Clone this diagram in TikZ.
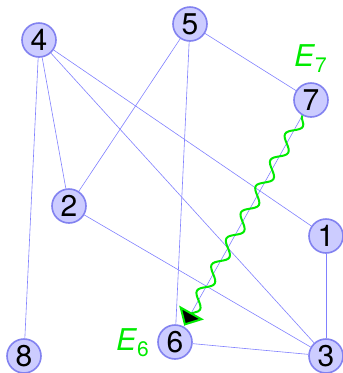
\documentclass[tikz,border=0pt]{standalone}
\usepackage{fontspec}
\setmainfont{TeX Gyre Heros}
\usetikzlibrary{arrows.meta,decorations.pathmorphing}
\definecolor{vertexfill}{RGB}{204,204,255}
\definecolor{vertexline}{RGB}{130,130,240}
\definecolor{edgeblue}{RGB}{128,128,255}
\definecolor{brightgreen}{RGB}{0,235,0}

\begin{document}
\begin{tikzpicture}[x=1pt, y=-1pt,
    vertex/.style={circle, draw=vertexline, fill=vertexfill, line width=1.6pt,
                   minimum size=34pt, inner sep=0pt, font=\fontsize{30}{30}\selectfont},
    edge/.style={draw=edgeblue, line width=0.6pt},
    elabel/.style={text=brightgreen, inner sep=0pt, anchor=base west,
                   font=\fontsize{30}{30}\selectfont}]
  \useasboundingbox (0,0) rectangle (343,373);

  % vertices
  \node[vertex] (n4) at (39,40)   {4};
  \node[vertex] (n5) at (190,24)  {5};
  \node[vertex] (n7) at (311,100) {7};
  \node[vertex] (n2) at (69,206)  {2};
  \node[vertex] (n1) at (326,236) {1};
  \node[vertex] (n8) at (24,356)  {8};
  \node[vertex] (n6) at (175,342) {6};
  \node[vertex] (n3) at (326,356) {3};

  % edges
  \draw[edge] (n4) -- (n8);
  \draw[edge] (n4) -- (n2);
  \draw[edge] (n4) -- (n1);
  \draw[edge] (n4) -- (n3);
  \draw[edge] (n5) -- (n2);
  \draw[edge] (n5) -- (n6);
  \draw[edge] (n5) -- (n7);
  \draw[edge] (n7) -- (n6);
  \draw[edge] (n2) -- (n3);
  \draw[edge] (n6) -- (n3);
  \draw[edge, line width=1pt] (n1) -- (n3);

  % wavy arrow
  \draw[brightgreen, line width=2pt, decorate,
        decoration={snake, amplitude=6pt, segment length=30pt, post length=10pt},
        -{Triangle[width=28pt, length=15pt, fill=black]}, shorten >=1pt]
    (n7) -- (n6);

  \node[elabel] (e7) at (294,66)  {\textit{E}\textsubscript{7}};
  \node[elabel] (e6) at (116,350) {\textit{E}\textsubscript{6}};
\end{tikzpicture}
\end{document}
